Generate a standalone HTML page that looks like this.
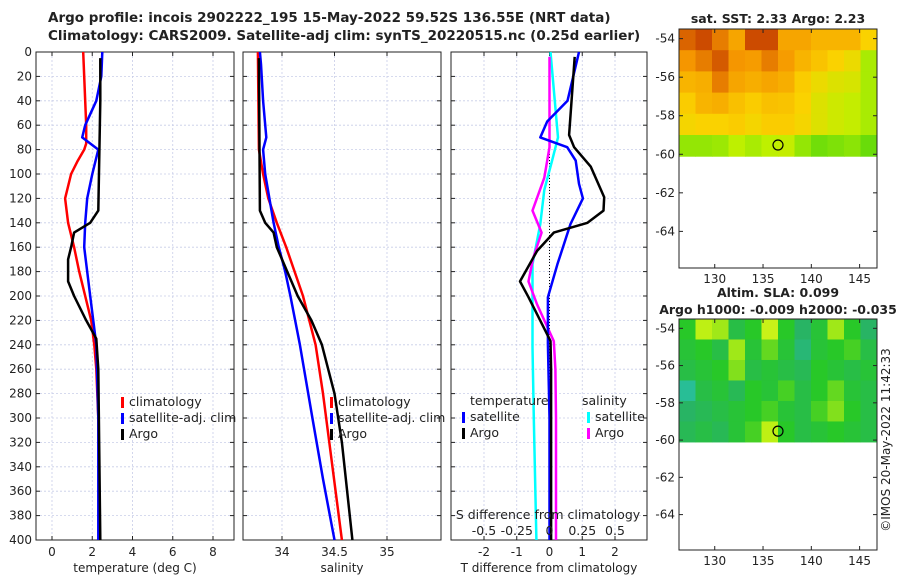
<!DOCTYPE html>
<html><head><meta charset="utf-8"><style>
body{margin:0;background:#fff;}
svg{display:block;font-family:"DejaVu Sans","Liberation Sans",sans-serif;}
</style></head><body>
<svg id="c" width="900" height="580" viewBox="0 0 900 580"></svg>
<script>
// ---------- data ----------
const tClimDepth=[0,20,40,60,75,80,90,100,120,140,160,180,200,220,240,260,300,400];
const tClimVal=[1.55,1.6,1.65,1.7,1.7,1.6,1.25,0.95,0.65,0.8,1.1,1.35,1.65,1.95,2.1,2.2,2.3,2.35];
const tSatDepth=[0,20,40,60,70,80,100,120,140,160,200,240,300,400];
const tSatVal=[2.5,2.45,2.2,1.65,1.5,2.3,2.0,1.75,1.65,1.6,1.9,2.2,2.3,2.3];
const tArgoDepth=[5,40,130,140,148,160,170,188,200,220,235,260,400];
const tArgoVal=[2.4,2.4,2.3,1.9,1.1,0.95,0.8,0.8,1.1,1.7,2.2,2.3,2.4];
const sClimDepth=[0,80,100,120,140,160,180,200,240,280,320,400];
const sClimVal=[33.77,33.78,33.82,33.87,33.95,34.04,34.12,34.2,34.32,34.39,34.45,34.57];
const sSatDepth=[0,10,40,70,80,100,140,160,180,200,240,300,350,400];
const sSatVal=[33.79,33.8,33.82,33.85,33.82,33.84,33.92,33.97,34.03,34.08,34.17,34.29,34.39,34.5];
const sArgoDepth=[5,130,140,148,160,200,220,240,280,320,400];
const sArgoVal=[33.78,33.79,33.84,33.92,33.95,34.15,34.28,34.38,34.5,34.57,34.67];
const dTArgoDepth=[4,68,78,94,119,130,140,148,163,188,201,223,237,260,400];
const dTArgoVal=[0.77,0.6,0.75,1.26,1.67,1.65,1.16,0.13,-0.38,-0.9,-0.64,-0.23,0.03,0.05,0.05];
const dTSatDepth=[0,40,57,70,78,89,108,120,141,174,201,239,300,400];
const dTSatVal=[0.9,0.55,-0.07,-0.28,0.54,0.8,0.9,1.02,0.64,0.24,-0.05,-0.05,0.0,0.0];
const dSSatDepth=[0,70,89,113,141,174,242,300,400];
const dSSatVal=[0.008,0.065,0.02,-0.04,-0.07,-0.13,-0.13,-0.12,-0.1];
const dSArgoDepth=[4,78,103,130,148,169,188,207,237,260,300,400];
const dSArgoVal=[0.0,0.0,-0.04,-0.13,-0.06,-0.125,-0.16,-0.095,0.033,0.045,0.05,0.05];
const depthTicks=[0,20,40,60,80,100,120,140,160,180,200,220,240,260,280,300,320,340,360,380,400];
const tTicks=[0,2,4,6,8];
const sTicks=[34,34.5,35];
const dTicks=[-2,-1,0,1,2];
const dSTicks=[-0.5,-0.25,0,0.25,0.5];
const sstGrid=[
[0.9,0.95,0.85,0.75,0.95,0.95,0.75,0.75,0.7,0.7,0.7,0.6],
[0.8,0.85,0.92,0.8,0.78,0.85,0.78,0.7,0.65,0.6,0.55,0.35],
[0.7,0.72,0.85,0.75,0.72,0.75,0.72,0.62,0.55,0.5,0.48,0.35],
[0.62,0.7,0.72,0.66,0.62,0.66,0.65,0.6,0.5,0.45,0.42,0.35],
[0.58,0.6,0.6,0.62,0.58,0.62,0.62,0.58,0.5,0.45,0.42,0.35],
[0.3,0.3,0.32,0.4,0.35,0.4,0.42,0.3,0.22,0.25,0.28,0.2]];
const slaGrid=[
[0.5,0.75,0.7,0.4,0.5,0.8,0.5,0.3,0.45,0.7,0.5,0.3],
[0.45,0.5,0.4,0.7,0.45,0.6,0.45,0.25,0.45,0.5,0.55,0.4],
[0.4,0.45,0.5,0.65,0.4,0.45,0.4,0.35,0.5,0.45,0.4,0.45],
[0.15,0.4,0.45,0.35,0.5,0.45,0.55,0.4,0.5,0.6,0.45,0.4],
[0.3,0.35,0.4,0.45,0.5,0.55,0.45,0.4,0.55,0.65,0.5,0.4],
[0.35,0.4,0.35,0.45,0.55,0.75,0.5,0.4,0.45,0.5,0.45,0.4]];
const lonTicks=[130,135,140,145];
const latTicks=[-54,-56,-58,-60,-62,-64];

// ---------- helpers ----------
const svg=document.getElementById('c');
const NS='http://www.w3.org/2000/svg';
function el(tag,attrs,parent){const e=document.createElementNS(NS,tag);for(const k in attrs)e.setAttribute(k,attrs[k]);(parent||svg).appendChild(e);return e;}
function txt(x,y,s,size,anchor,weight,parent){const t=el('text',{x:x,y:y,'font-size':size,'text-anchor':anchor||'middle','font-weight':weight||'normal',fill:'#222'},parent);t.textContent=s;return t;}
const Y0=52,Y1=540;
const yD=d=>Y0+(d/400)*(Y1-Y0);
function lin(d0,d1,p0,p1){return v=>p0+(v-d0)/(d1-d0)*(p1-p0);}

function panel(name,x0,x1,xs,ticks,label,showY){
  const g=el('g',{});
  
  
  for(const d of depthTicks){el('line',{x1:x0,x2:x1,y1:yD(d),y2:yD(d),stroke:'#c8cde8','stroke-width':0.8,'stroke-dasharray':'2,2'},g);}
  for(const t of ticks){const x=xs(t);el('line',{x1:x,x2:x,y1:Y0,y2:Y1,stroke:'#c8cde8','stroke-width':0.8,'stroke-dasharray':'2,2'},g);
    el('line',{x1:x,x2:x,y1:Y1,y2:Y1-4,stroke:'#222'},g);el('line',{x1:x,x2:x,y1:Y0,y2:Y0+4,stroke:'#222'},g);
    txt(x,556,String(t),12,'middle','normal',g);}
  for(const d of depthTicks){el('line',{x1:x0,x2:x0+4,y1:yD(d),y2:yD(d),stroke:'#222'},g);el('line',{x1:x1,x2:x1-4,y1:yD(d),y2:yD(d),stroke:'#222'},g);
    if(showY)txt(x0-4,yD(d)+4,String(d),12,'end','normal',g);}
  el('rect',{x:x0,y:Y0,width:x1-x0,height:Y1-Y0,fill:'none',stroke:'#222','stroke-width':1},g);
  txt((x0+x1)/2,572,label,12,'middle','normal',g);
  return g;
}
function line(g,name,dep,val,xs,color,w){
  const p=el('polyline',{points:dep.map((d,i)=>xs(val[i]).toFixed(1)+','+yD(d).toFixed(1)).join(' '),fill:'none',stroke:color,'stroke-width':w||2.5,'stroke-linejoin':'round'},g);
  
  
}
function legend(g,x,y,items){
  items.forEach((it,i)=>{el('rect',{x:x,y:y+i*16-9,width:3,height:11,fill:it[1]},g);txt(x+8,y+i*16,it[0],12.5,'start','normal',g);});
}

// titles
const t1=txt(48,22,'Argo profile: incois 2902222_195 15-May-2022 59.52S 136.55E (NRT data)',13.5,'start','bold');

const t2=txt(48,40,'Climatology: CARS2009. Satellite-adj clim: synTS_20220515.nc (0.25d earlier)',13.5,'start','bold');


// panel 1
const xT=lin(0,8,52,213);
const p1=panel('temperature-panel',36,234,xT,tTicks,'temperature (deg C)',true);
line(p1,'temp-climatology',tClimDepth,tClimVal,xT,'#f00');
line(p1,'temp-satellite-adj',tSatDepth,tSatVal,xT,'#00f');
line(p1,'temp-argo',tArgoDepth,tArgoVal,xT,'#000');
legend(p1,121,406,[['climatology','#f00'],['satellite-adj. clim','#00f'],['Argo','#000']]);

// panel 2
const xS=lin(34,35,282,387);
const p2=panel('salinity-panel',243,441,xS,sTicks,'salinity',false);
line(p2,'sal-climatology',sClimDepth,sClimVal,xS,'#f00');
line(p2,'sal-satellite-adj',sSatDepth,sSatVal,xS,'#00f');
line(p2,'sal-argo',sArgoDepth,sArgoVal,xS,'#000');
legend(p2,330,406,[['climatology','#f00'],['satellite-adj. clim','#00f'],['Argo','#000']]);

// panel 3
const xD=lin(-2,2,484,615);
const xDS=v=>xD(v*4);
const p3=panel('difference-panel',451,647,xD,dTicks,'T difference from climatology',false);
el('line',{x1:xD(0),x2:xD(0),y1:Y0,y2:Y1,stroke:'#000','stroke-width':1,'stroke-dasharray':'1,2'},p3);
line(p3,'sdiff-satellite',dSSatDepth,dSSatVal,xDS,'#0ff');
line(p3,'sdiff-argo',dSArgoDepth,dSArgoVal,xDS,'#f0f');
line(p3,'tdiff-satellite',dTSatDepth,dTSatVal,xD,'#00f');
line(p3,'tdiff-argo',dTArgoDepth,dTArgoVal,xD,'#000');
txt(470,405,'temperature',12.5,'start','normal',p3);
legend(p3,462,421,[['satellite','#00f'],['Argo','#000']]);
txt(582,405,'salinity',12.5,'start','normal',p3);
legend(p3,587,421,[['satellite','#0ff'],['Argo','#f0f']]);
txt(548,519,'S difference from climatology',12.5,'middle','normal',p3);
dSTicks.forEach(v=>txt(xDS(v),535,String(v),12.5,'middle','normal',p3));

// maps
function sstColor(v){const stops=[[0,[20,200,20]],[0.4,[190,240,0]],[0.6,[250,210,0]],[0.8,[245,150,0]],[1,[190,50,0]]];return interp(stops,v);}
function slaColor(v){const stops=[[0,[40,200,200]],[0.3,[40,180,100]],[0.5,[40,200,40]],[0.75,[190,240,20]],[1,[240,250,40]]];return interp(stops,v);}
function interp(stops,v){for(let i=1;i<stops.length;i++){if(v<=stops[i][0]){const a=stops[i-1],b=stops[i],f=(v-a[0])/(b[0]-a[0]);return 'rgb('+a[1].map((c,k)=>Math.round(c+f*(b[1][k]-c))).join(',')+')';}}return 'rgb('+stops[stops.length-1][1].join(',')+')';}
function map(name,top,bottom,grid,cf,title1,title2){
  const g=el('g',{});
  
  
  const x0=679,x1=877;
  const xL=lin(126.3,146.8,x0,x1);
  const yL=lin(-53.5,-65.9,top,bottom);
  const rows=grid.length,cols=grid[0].length;
  const cw=(x1-x0)/cols,ch=(yL(-60.1)-top)/rows;
  grid.forEach((r,i)=>r.forEach((v,j)=>{const c=el('rect',{x:x0+j*cw,y:top+i*ch,width:cw+0.5,height:ch+0.5,fill:cf(v)},g);
    
    }));
  el('circle',{cx:xL(136.55),cy:yL(-59.52),r:5,fill:'none',stroke:'#000','stroke-width':1.2},g);
  el('rect',{x:x0,y:top,width:x1-x0,height:bottom-top,fill:'none',stroke:'#222'},g);
  lonTicks.forEach(v=>{el('line',{x1:xL(v),x2:xL(v),y1:bottom,y2:bottom-4,stroke:'#222'},g);el('line',{x1:xL(v),x2:xL(v),y1:top,y2:top+4,stroke:'#222'},g);txt(xL(v),bottom+15,String(v),12,'middle','normal',g);});
  latTicks.forEach(v=>{el('line',{x1:x0,x2:x0+4,y1:yL(v),y2:yL(v),stroke:'#222'},g);el('line',{x1:x1,x2:x1-4,y1:yL(v),y2:yL(v),stroke:'#222'},g);txt(x0-4,yL(v)+4,String(v),12,'end','normal',g);});
  txt(778,title2?top-22:top-6,title1,12.5,'middle','bold',g);
  if(title2)txt(778,top-5,title2,12.5,'middle','bold',g);
}
map('sst-map',29,268,sstGrid,sstColor,'sat. SST: 2.33 Argo: 2.23');
map('sla-map',319,550,slaGrid,slaColor,'Altim. SLA: 0.099','Argo h1000: -0.009 h2000: -0.035');
const cp=txt(0,0,'©IMOS 20-May-2022 11:42:33',12,'middle','normal');
cp.setAttribute('transform','translate(890,440) rotate(-90)');

</script>
</body></html>
